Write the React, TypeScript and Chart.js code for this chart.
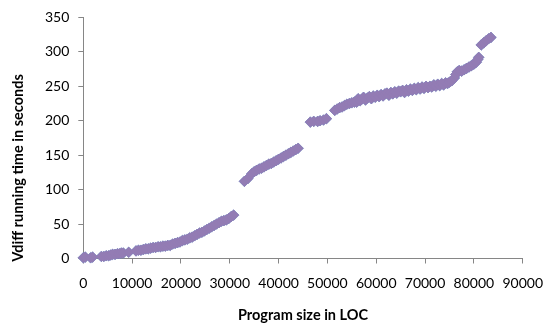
import React, { useEffect, useRef } from "react";
import { Chart, registerables } from "chart.js";

Chart.register(...registerables);

// Program size in LOC
const loc: number[] = [
  0, 400, 1500, 1900, 3700, 4200, 4700, 5200, 5600, 6000, 6500, 7000, 7400, 7800, 8200, 9300,
  10800, 11300, 11800, 12300, 12800, 13300, 13800, 14300, 14800, 15300, 15800, 16300, 16800,
  17300, 17800, 18300, 18800, 19300, 19800, 20300, 20800, 21300, 21800, 22300, 22800, 23300,
  23800, 24300, 24800, 25300, 25800, 26300, 26800, 27300, 27800, 28300, 28800, 29300, 29800,
  30300, 30800,
  33000, 33700, 34500, 35000, 35500, 36000, 36500, 37000, 37500, 38000, 38500, 39000, 39500,
  40000, 40500, 41000, 41500, 42000, 42500, 43000, 43500, 44000,
  46500, 47200, 48000, 48500, 49200, 49800,
  51500, 52000, 52500, 53000, 53500, 54000, 54500, 55000, 55500,
  56000, 56300, 56700, 57000, 57400, 57800, 58200, 58600, 59000, 59400, 59800, 60200, 60600,
  61000, 61400, 61800, 62200, 62600, 63000, 63400, 63800, 64200, 64600, 65000, 65400, 65800,
  66200, 66600, 67000, 67400, 67800, 68200, 68600, 69000, 69400, 69800, 70200, 70600, 71000,
  71400, 71800, 72200, 72600, 73000, 73400, 73800, 74200, 74600, 75000,
  75500, 76000, 76300, 76600, 77000, 77500, 78000, 78500, 79000, 79500, 80000, 80500, 80800,
  81000,
  81500, 82000, 82500, 83000, 83500,
];

// Vdiff running time in seconds
const seconds: number[] = [
  1, 2, 1, 2, 3, 3, 4, 4, 5, 6, 6, 7, 7, 8, 8, 9,
  11, 12, 12, 13, 14, 14, 15, 16, 16, 17, 17, 18, 18,
  19, 19, 21, 22, 23, 24, 26, 27, 28, 30, 31, 33, 35,
  37, 38, 40, 42, 44, 46, 48, 50, 52, 54, 55, 56, 58,
  61, 63,
  112, 116, 123, 126, 128, 130, 131, 133, 135, 137, 138, 140, 142,
  144, 146, 148, 150, 152, 154, 156, 158, 160,
  198, 199, 199, 200, 201, 203,
  215, 217, 219, 220, 222, 224, 225, 226, 227,
  227, 232, 229, 231, 234, 230, 233, 235, 232, 236, 234, 237, 235,
  238, 236, 239, 240, 237, 241, 239, 242, 240, 243, 242, 244, 241,
  245, 243, 246, 244, 247, 245, 248, 246, 249, 247, 250, 248, 250,
  249, 252, 250, 253, 251, 254, 252, 255, 254, 256,
  258, 262, 267, 271, 273, 272, 274, 276, 278, 280, 282, 285, 289,
  292,
  310, 313, 316, 319, 321,
];

const xTickValues = [0, 10000, 20000, 30000, 40000, 50000, 60000, 70000, 80000, 90000];
const yTickValues = [0, 50, 100, 150, 200, 250, 300, 350];
const xTitle = "Program size in LOC";
const yTitle = "Vdiff running time in seconds";

export default function App() {
  const ref = useRef<HTMLCanvasElement>(null);

  useEffect(() => {
    if (!ref.current) return;
    const points = loc.map((x, i) => ({ x, y: seconds[i] }));

    const titles = {
      id: "axisTitles",
      afterDraw(chart: any) {
        const ctx = chart.ctx;
        const area = chart.chartArea;
        ctx.save();
        ctx.font = "bold 14.5px Lato";
        ctx.fillStyle = "#000";
        ctx.textAlign = "center";
        ctx.textBaseline = "middle";
        ctx.fillText(xTitle, (area.left + area.right) / 2, 315);
        ctx.translate(18, 168);
        ctx.rotate(-Math.PI / 2);
        ctx.fillText(yTitle, 0, 0);
        ctx.restore();
      },
    };

    const tickFont = { family: "Lato", size: 14 };
    const axisColor = "#868686";

    const chart = new Chart(ref.current, {
      type: "scatter",
      data: {
        datasets: [
          {
            label: "Vdiff (purple)",
            data: points,
            pointStyle: "rectRot",
            pointRadius: 5.3,
            backgroundColor: "rgb(147,124,180)",
            borderColor: "rgb(147,124,180)",
            borderWidth: 0.5,
            clip: false,
          },
          {
            label: "Vdiff (blue)",
            data: points,
            pointStyle: "rectRot",
            pointRadius: 5.3,
            backgroundColor: "rgb(88,140,200)",
            borderColor: "rgb(88,140,200)",
            borderWidth: 0.5,
            clip: false,
          },
        ],
      },
      options: {
        responsive: false,
        animation: false,
        layout: { padding: { top: 15, right: 21.7, left: 0, bottom: 0 } },
        plugins: {
          legend: { display: false },
          tooltip: { enabled: false },
        },
        scales: {
          x: {
            type: "linear",
            min: 0,
            max: 90000,
            afterBuildTicks: (s: any) => {
              s.ticks = xTickValues.map((v) => ({ value: v }));
            },
            ticks: {
              color: "#000",
              font: tickFont,
              padding: 12,
              maxRotation: 0,
              autoSkip: false,
              callback: (v: any) => String(v),
            },
            grid: { drawOnChartArea: false, drawTicks: true, tickLength: 5, color: axisColor },
            border: { display: true, color: axisColor, width: 1 },
            afterFit: (s: any) => {
              s.height = 70.5;
            },
          },
          y: {
            type: "linear",
            min: 0,
            max: 350,
            afterBuildTicks: (s: any) => {
              s.ticks = yTickValues.map((v) => ({ value: v }));
            },
            ticks: {
              color: "#000",
              font: tickFont,
              padding: 9,
              autoSkip: false,
              callback: (v: any) => String(v),
            },
            grid: { drawOnChartArea: false, drawTicks: true, tickLength: 5, color: axisColor },
            border: { display: true, color: axisColor, width: 1 },
            afterFit: (s: any) => {
              s.width = 83.3;
            },
          },
        },
      },
      plugins: [titles],
    } as any);

    return () => chart.destroy();
  }, []);

  return (
    <canvas
      ref={ref}
      width={555}
      height={329}
      style={{ position: "fixed", left: 0, top: 0, width: 555, height: 329 }}
    />
  );
}
